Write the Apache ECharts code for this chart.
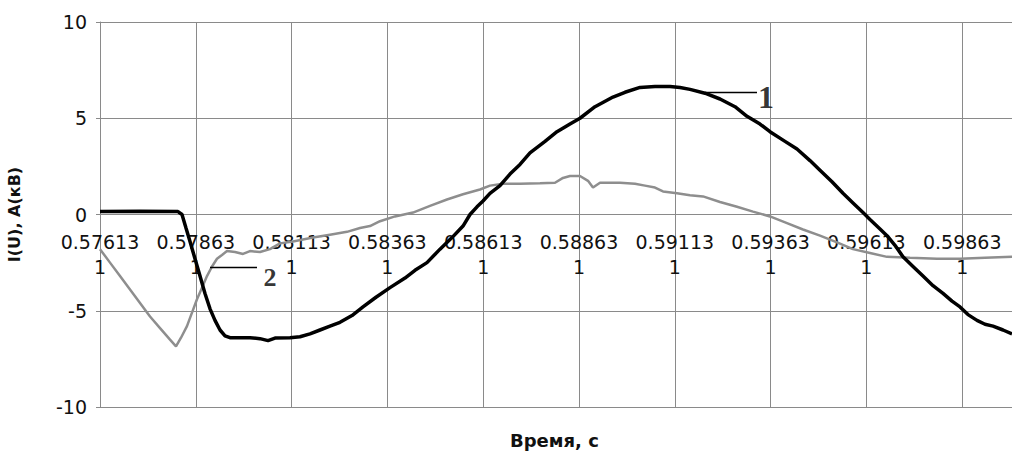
<!DOCTYPE html>
<html>
<head>
<meta charset="utf-8">
<script src="https://cdn.jsdelivr.net/npm/echarts@6/dist/echarts.min.js"></script>
<style>
  html, body { margin: 0; padding: 0; background: #fff; }
  #chart { width: 1012px; height: 452px; }
</style>
</head>
<body>
<div id="chart"></div>
<script>
// ---- Data ----
const START_TIME = 0.57613;        // first category label (s)
const TICK_STEP = 0.0025;          // label step (s)
const X_SPAN = 0.025;              // visible span incl. clipped part
const yTicks = [-10, -5, 0, 5, 10];

// Curve 1 (black): I(U)
const time1 = [0.57613,0.577174,0.578165,0.57827,0.578374,0.578479,0.578609,0.57874,0.57887,0.579001,0.579131,0.579262,0.579392,0.579522,0.580044,0.580305,0.580514,0.580697,0.581088,0.581349,0.58161,0.581871,0.582132,0.582393,0.582706,0.582993,0.583332,0.583698,0.584089,0.58435,0.584663,0.585003,0.585316,0.585603,0.585786,0.585968,0.586125,0.586307,0.586568,0.586829,0.58709,0.587351,0.587743,0.588056,0.588395,0.588656,0.589048,0.589517,0.58983,0.590222,0.590613,0.591005,0.591266,0.591527,0.591918,0.59231,0.592701,0.593014,0.593353,0.593614,0.594006,0.594319,0.594658,0.594919,0.595232,0.595519,0.59578,0.596041,0.596224,0.596485,0.596668,0.596876,0.597085,0.597346,0.597607,0.597868,0.598129,0.598364,0.598573,0.598781,0.599016,0.599225,0.599434,0.599695,0.59993];
const value1 = [0.15,0.17,0.15,0.0,-0.7,-1.4,-2.3,-3.2,-4.1,-4.9,-5.5,-6.0,-6.3,-6.4,-6.4,-6.45,-6.55,-6.42,-6.4,-6.35,-6.2,-6.0,-5.8,-5.6,-5.25,-4.8,-4.3,-3.8,-3.3,-2.9,-2.5,-1.8,-1.2,-0.6,0.0,0.4,0.7,1.1,1.5,2.1,2.6,3.2,3.8,4.3,4.7,5.0,5.6,6.1,6.35,6.6,6.65,6.65,6.6,6.5,6.3,6.0,5.6,5.1,4.7,4.3,3.8,3.4,2.8,2.3,1.7,1.1,0.6,0.1,-0.26,-0.75,-1.1,-1.6,-2.2,-2.7,-3.2,-3.7,-4.1,-4.5,-4.8,-5.2,-5.5,-5.7,-5.8,-6.0,-6.2];

// Curve 2 (grey): A(кВ)
const time2 = [0.57613,0.576391,0.576652,0.576913,0.577174,0.577435,0.577696,0.577957,0.578113,0.578244,0.5784,0.578531,0.578661,0.578792,0.578922,0.579053,0.579183,0.579314,0.579444,0.579653,0.579862,0.580044,0.580305,0.580566,0.580827,0.581167,0.581427,0.581688,0.582132,0.582576,0.582915,0.583176,0.583437,0.583828,0.584298,0.584742,0.585185,0.585603,0.586046,0.586307,0.586647,0.58709,0.587612,0.588004,0.588212,0.588395,0.588656,0.588865,0.588995,0.589178,0.5897,0.590091,0.590352,0.590613,0.590822,0.591187,0.591527,0.591866,0.59231,0.592753,0.593171,0.593614,0.594058,0.594475,0.594919,0.595363,0.59578,0.596224,0.596668,0.597268,0.597972,0.598573,0.599225,0.59993];
const value2 = [-1.8,-2.5,-3.2,-3.9,-4.6,-5.3,-5.9,-6.5,-6.85,-6.4,-5.8,-5.1,-4.4,-3.8,-3.2,-2.7,-2.3,-2.1,-1.9,-1.95,-2.05,-1.9,-1.95,-1.8,-1.5,-1.4,-1.3,-1.2,-1.05,-0.9,-0.7,-0.6,-0.35,-0.1,0.1,0.45,0.78,1.05,1.3,1.5,1.6,1.6,1.62,1.65,1.9,2.0,2.0,1.75,1.4,1.65,1.65,1.6,1.5,1.4,1.2,1.1,1.0,0.94,0.65,0.4,0.15,-0.1,-0.45,-0.78,-1.1,-1.45,-1.8,-2.0,-2.2,-2.25,-2.3,-2.3,-2.25,-2.2];

// Curve labels with leader lines (time, value)
const leader1 = [[0.591918, 6.34], [0.593275, 6.34]];
const label1 = [0.59351, 6.08];
const leader2 = [[0.579001, -2.75], [0.580227, -2.75]];
const label2 = [0.580566, -3.27];

const xTitle = 'Время, с';
const yTitle = 'I(U), A(кВ)';

// ---- Build ----
const toPts = (ts, vs) => ts.map((t, i) => [t - START_TIME, vs[i]]);
const rel = p => [p[0] - START_TIME, p[1]];

const PLOT_TOP = 22, PLOT_BOTTOM = 45, H = 452;
const plotH = H - PLOT_TOP - PLOT_BOTTOM;
// distance from plot bottom up to value 0 (middle of -10..10)
const zeroOffset = plotH * (0 - yTicks[0]) / (yTicks[yTicks.length - 1] - yTicks[0]);

const chart = echarts.init(document.getElementById('chart'), null, { renderer: 'svg' });
const gridColor = '#8a8a8a';
const font = 'DejaVu Sans';

chart.setOption({
  animation: false,
  backgroundColor: '#fff',
  grid: { left: 100, top: PLOT_TOP, bottom: PLOT_BOTTOM, right: -46, containLabel: false, outerBoundsMode: 'none' },
  xAxis: {
    type: 'value',
    min: 0, max: X_SPAN, interval: TICK_STEP,
    position: 'bottom',
    offset: -zeroOffset,
    axisLine: { onZero: false, lineStyle: { color: gridColor, width: 1 } },
    axisTick: { show: false },
    splitLine: { show: true, lineStyle: { color: gridColor, width: 1 } },
    axisLabel: {
      margin: 15, showMaxLabel: false,
      fontFamily: font, fontSize: 19, lineHeight: 25, color: '#111',
      formatter: v => (START_TIME + v).toFixed(5) + '\n1'
    }
  },
  yAxis: {
    type: 'value',
    min: yTicks[0], max: yTicks[yTicks.length - 1], interval: 5,
    name: yTitle, nameLocation: 'middle', nameGap: 78,
    nameTextStyle: { fontFamily: font, fontSize: 16, fontWeight: 'bold', color: '#111' },
    axisLine: { show: true, onZero: false, lineStyle: { color: gridColor, width: 1 } },
    axisTick: { show: true, length: 4, lineStyle: { color: gridColor } },
    splitLine: { show: true, lineStyle: { color: gridColor, width: 1 } },
    axisLabel: { margin: 13, fontFamily: font, fontSize: 19, color: '#111' }
  },
  graphic: [{
    type: 'text', left: 510, top: 431,
    style: { text: xTitle, font: 'bold 18px "DejaVu Sans"', fill: '#111' }
  }],
  series: [
    {
      name: '2', type: 'line', data: toPts(time2, value2),
      showSymbol: false, lineStyle: { color: '#8e8e8e', width: 2.5 }, z: 3
    },
    {
      name: '1', type: 'line', data: toPts(time1, value1),
      showSymbol: false, lineStyle: { color: '#000', width: 3.5 }, z: 4
    },
    {
      type: 'line', data: leader1.map(rel), showSymbol: false,
      lineStyle: { color: '#000', width: 1.5 }, z: 5
    },
    {
      type: 'line', data: leader2.map(rel), showSymbol: false,
      lineStyle: { color: '#000', width: 1.5 }, z: 5
    },
    {
      type: 'scatter', symbolSize: 0, z: 6,
      data: [
        { value: rel(label1), label: { formatter: '1', fontSize: 32 } },
        { value: rel(label2), label: { formatter: '2', fontSize: 26 } }
      ],
      label: {
        show: true, position: 'inside', color: '#000',
        fontFamily: 'Liberation Serif', fontWeight: 'bold'
      }
    }
  ]
});
</script>
</body>
</html>
